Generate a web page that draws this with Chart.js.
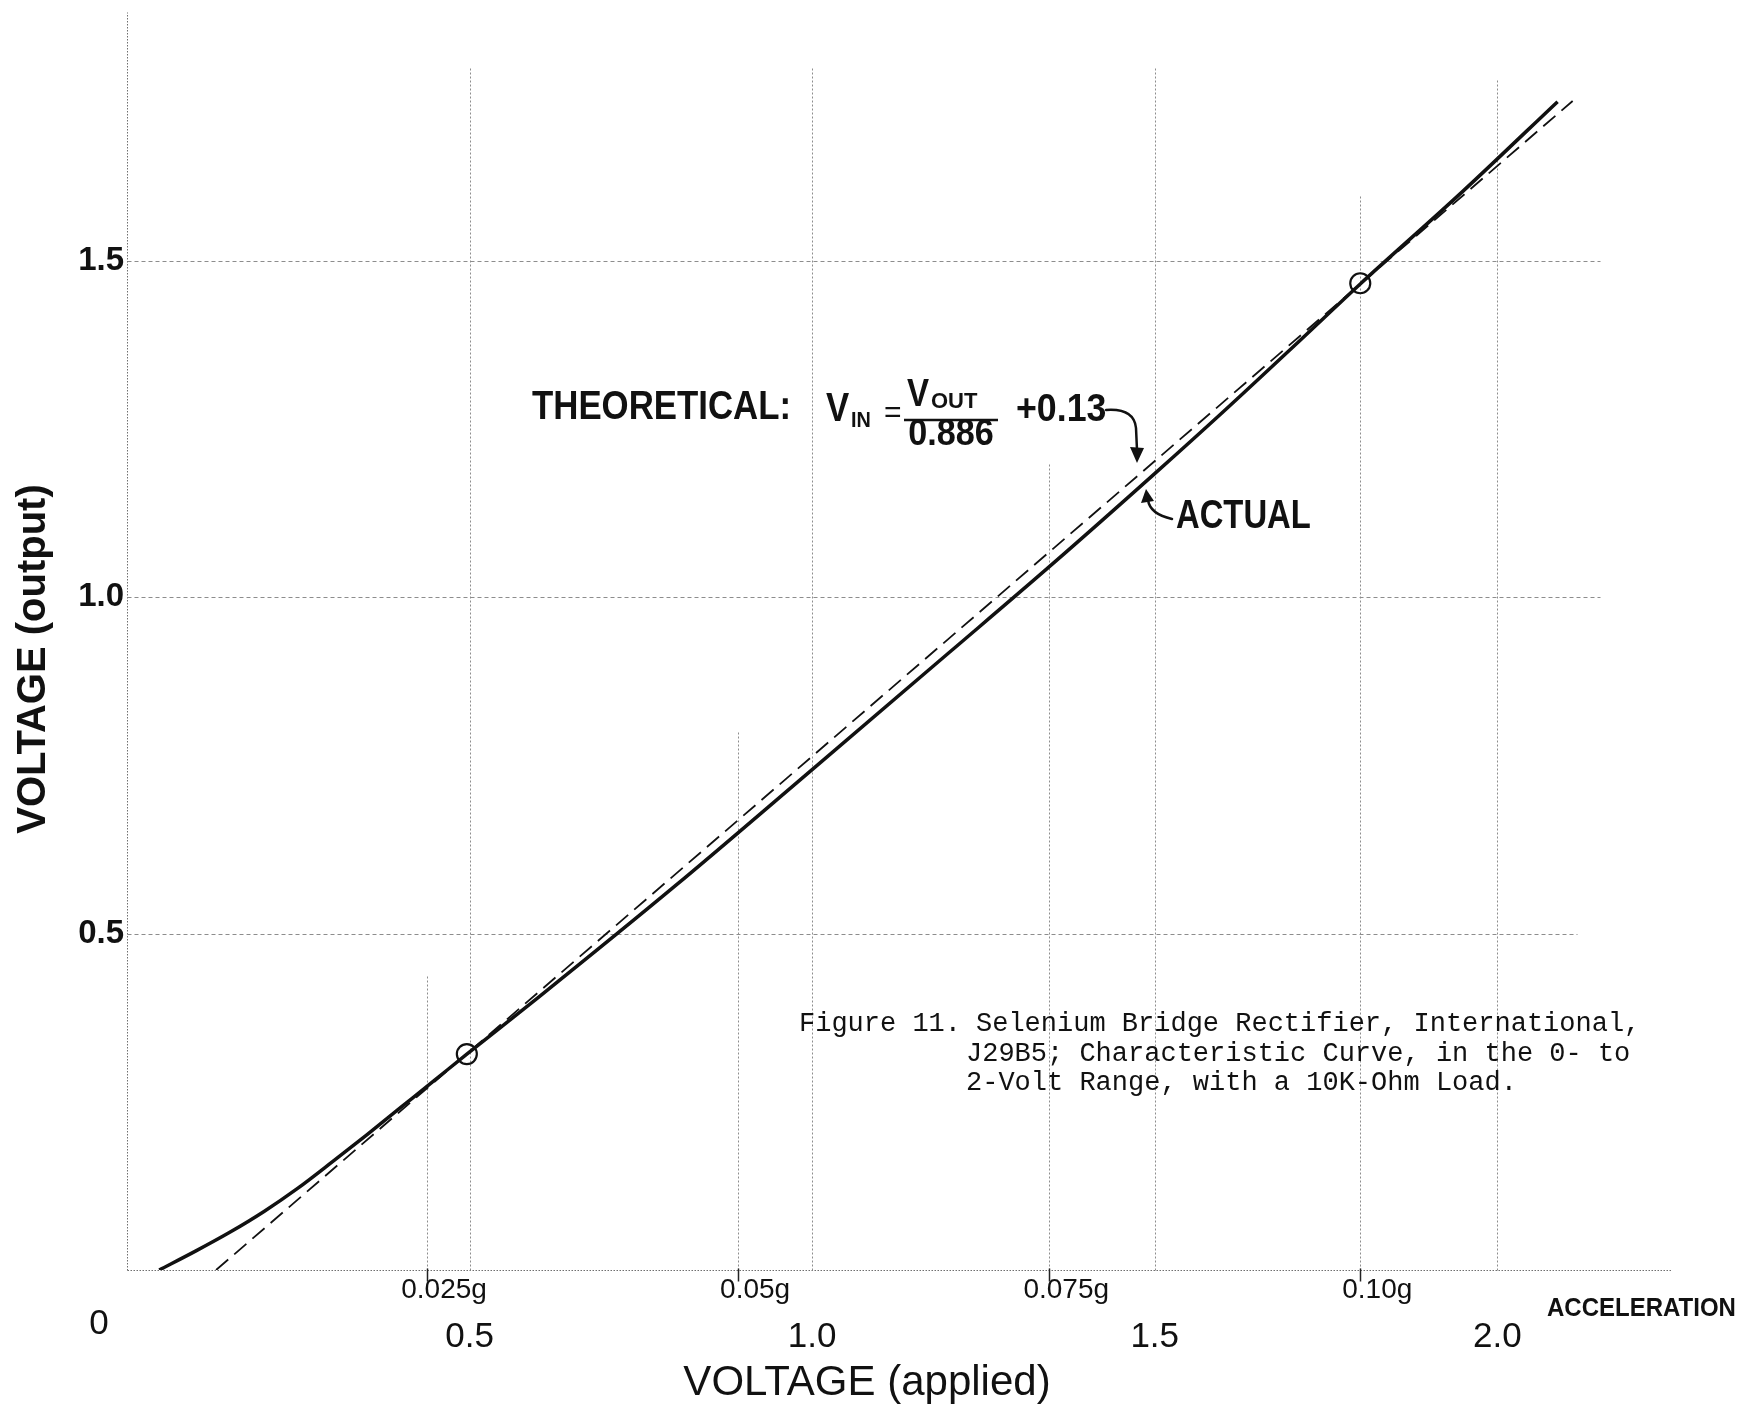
<!DOCTYPE html>
<html><head><meta charset="utf-8">
<script src="https://cdn.jsdelivr.net/npm/chart.js@4.4.1/dist/chart.umd.min.js"></script>
<style>html,body{margin:0;padding:0;background:#fff;}#wrap{width:1760px;height:1411px;position:relative;}</style>
</head><body><div id="wrap"><canvas id="c"></canvas></div>
<script>
// ---- data ----
const actualVin  = [0.047, 0.10, 0.15, 0.20, 0.25, 0.30, 0.35, 0.40, 0.45, 0.496, 0.60, 0.80, 1.00, 1.20, 1.35, 1.50, 1.60, 1.712, 1.80, 1.95, 2.088];
const actualVout = [0.000, 0.028, 0.056, 0.087, 0.122, 0.161, 0.201, 0.242, 0.283, 0.321, 0.405, 0.571, 0.744, 0.918, 1.049, 1.184, 1.276, 1.382, 1.466, 1.604, 1.737];
const theoVin  = [0.13, 2.11];
const theoVout = [0.00, 1.738];
const markVin  = [0.496, 1.80];
const markVout = [0.321, 1.467];
const voltTicks = [0, 0.5, 1.0, 1.5, 2.0];
const voltTickLabels = ['0', '0.5', '1.0', '1.5', '2.0'];
const outTicks = [0.5, 1.0, 1.5];
const outTickLabels = ['0.5', '1.0', '1.5'];
const accelPos = [0.438, 0.892, 1.346, 1.800];
const accelLabels = ['0.025g', '0.05g', '0.075g', '0.10g'];
const xTitle = 'VOLTAGE (applied)';
const yTitle = 'VOLTAGE (output)';
const accelTitle = 'ACCELERATION';
const captionHead = 'Figure 11.';
const captionLines = ['Selenium Bridge Rectifier, International,', 'J29B5; Characteristic Curve, in the 0- to', '2-Volt Range, with a 10K-Ohm Load.'];

// ---- grid extents (paper grid drawn partially) ----
const X_MAX = 2.255, Y_MAX = 1.87;
const voltGridTop = [1.79, 1.79, 1.79, 1.77];      // for 0.5,1.0,1.5,2.0
const accelGridTop = [0.44, 0.80, 1.20, 1.60];
const outGridRight = [2.117, 2.15, 2.15];           // for 0.5,1.0,1.5

const pts = (xs, ys) => xs.map((v, i) => ({x: v, y: ys[i]}));
const FF = '"Liberation Sans", Arial, sans-serif';

function txt(ctx, s, x, y, font, sx, align, base) {
  ctx.save(); ctx.translate(x, y); ctx.scale(sx || 1, 1);
  ctx.font = font; ctx.textAlign = align || 'left'; ctx.textBaseline = base || 'middle';
  ctx.fillStyle = '#111'; ctx.fillText(s, 0, 0); ctx.restore();
}

const paperGrid = {
  id: 'paperGrid',
  beforeDatasetsDraw(chart) {
    const {ctx, scales: {x, y}} = chart;
    const X = v => Math.round(x.getPixelForValue(v)) + 0.5;
    const Y = v => Math.round(y.getPixelForValue(v)) + 0.5;
    ctx.save();
    ctx.lineWidth = 1;
    ctx.strokeStyle = '#6f6f6f'; ctx.setLineDash([1.5, 1.5]);
    ctx.beginPath(); ctx.moveTo(X(0), Y(0)); ctx.lineTo(X(0), Y(Y_MAX)); ctx.stroke();
    ctx.beginPath(); ctx.moveTo(X(0), Y(0)); ctx.lineTo(X(X_MAX), Y(0)); ctx.stroke();
    ctx.strokeStyle = '#8d8d8d'; ctx.setLineDash([2, 2]);
    voltTicks.slice(1).forEach((v, i) => { ctx.beginPath(); ctx.moveTo(X(v), Y(0)); ctx.lineTo(X(v), Y(voltGridTop[i])); ctx.stroke(); });
    accelPos.forEach((v, i) => { ctx.beginPath(); ctx.moveTo(X(v), Y(0)); ctx.lineTo(X(v), Y(accelGridTop[i])); ctx.stroke(); });
    ctx.setLineDash([4, 3]);
    outTicks.forEach((v, i) => { ctx.beginPath(); ctx.moveTo(X(0), Y(v)); ctx.lineTo(X(outGridRight[i]), Y(v)); ctx.stroke(); });
    ctx.setLineDash([]); ctx.strokeStyle = '#222'; ctx.lineWidth = 1.5;
    accelPos.forEach(v => { ctx.beginPath(); ctx.moveTo(X(v), Y(0) - 2); ctx.lineTo(X(v), Y(0) + 11); ctx.stroke(); });
    ctx.restore();
  }
};

const notes = {
  id: 'notes',
  afterDatasetsDraw(chart) {
    const {ctx, scales: {x, y}} = chart;
    const B = 'bold ', F = 'px ' + FF;
    txt(ctx, 'THEORETICAL:', 532, 408, B + 40 + F, 0.87);
    txt(ctx, 'V', 826, 410, B + 40 + F, 0.87);
    txt(ctx, 'IN', 851, 421, B + 22 + F, 0.9);
    txt(ctx, '=', 884, 414, '30' + F, 1);
    txt(ctx, 'V', 907, 396, B + 38 + F, 0.87);
    txt(ctx, 'OUT', 931, 402, B + 22 + F, 1.0);
    ctx.save(); ctx.strokeStyle = '#111'; ctx.lineWidth = 2.5;
    ctx.beginPath(); ctx.moveTo(904, 420); ctx.lineTo(998, 420); ctx.stroke(); ctx.restore();
    txt(ctx, '0.886', 951, 435, B + 36 + F, 0.95, 'center');
    txt(ctx, '+0.13', 1016, 411, B + 38 + F, 0.94);
    txt(ctx, 'ACTUAL', 1176, 517, B + 40 + F, 0.82);
    ctx.save(); ctx.strokeStyle = '#111'; ctx.fillStyle = '#111'; ctx.lineWidth = 2.5; ctx.lineCap = 'round';
    ctx.beginPath(); ctx.moveTo(1106, 410); ctx.quadraticCurveTo(1134, 408, 1136, 428); ctx.lineTo(1137, 450); ctx.stroke();
    ctx.beginPath(); ctx.moveTo(1137, 463); ctx.lineTo(1130, 447); ctx.lineTo(1144, 448); ctx.closePath(); ctx.fill();
    ctx.beginPath(); ctx.moveTo(1172, 519); ctx.quadraticCurveTo(1150, 514, 1148, 500); ctx.stroke();
    ctx.beginPath(); ctx.moveTo(1146, 489); ctx.lineTo(1141, 503); ctx.lineTo(1154, 501); ctx.closePath(); ctx.fill();
    ctx.restore();
    // caption
    const M = '27px "Liberation Mono", "DejaVu Sans Mono", monospace';
    txt(ctx, captionHead, 799, 1024, M, 1);
    captionLines.forEach((s, i) => txt(ctx, s, i === 0 ? 976 : 966, 1024 + i * 29.5, M, 1));
    // axis texts
    txt(ctx, accelTitle, 1547, 1309, B + 25 + F, 0.96);
    txt(ctx, voltTickLabels[0], x.getPixelForValue(voltTicks[0]) - 28, 1324, 35 + F, 1, 'center');
    txt(ctx, xTitle, 867, 1383, 42 + F, 1, 'center');
    ctx.save(); ctx.translate(34, 659); ctx.rotate(-Math.PI / 2);
    txt(ctx, yTitle, 0, 0, B + 40 + F, 1, 'center'); ctx.restore();
  }
};

Chart.defaults.font.family = FF;
Chart.defaults.color = '#111';

new Chart(document.getElementById('c'), {
  type: 'scatter',
  data: {
    datasets: [
      {label: 'Actual', data: pts(actualVin, actualVout), showLine: true, borderColor: '#111', borderWidth: 3.5,
       pointRadius: 0, cubicInterpolationMode: 'monotone', xAxisID: 'x', yAxisID: 'y'},
      {label: 'Theoretical', data: pts(theoVin, theoVout), showLine: true, borderColor: '#111', borderWidth: 1.8,
       borderDash: [16, 8], pointRadius: 0, xAxisID: 'x', yAxisID: 'y'},
      {label: 'Points', data: pts(markVin, markVout), showLine: false, pointRadius: 10, pointStyle: 'circle',
       borderColor: '#111', borderWidth: 2.2, backgroundColor: 'rgba(0,0,0,0)', xAxisID: 'x', yAxisID: 'y'}
    ]
  },
  options: {
    responsive: true, maintainAspectRatio: false, animation: false,
    layout: {padding: {left: 0, right: 88, top: 6, bottom: 0}},
    plugins: {legend: {display: false}, tooltip: {enabled: false}},
    scales: {
      x: {
        type: 'linear', position: 'bottom', min: 0, max: X_MAX, weight: 1,
        afterBuildTicks: s => { s.ticks = voltTicks.slice(1).map(v => ({value: v})); },
        afterFit: s => { s.height = 103; s.paddingLeft = 0; s.paddingRight = 0; },
        grid: {display: false, drawTicks: false}, border: {display: false},
        ticks: {padding: 8, font: {size: 35}, maxRotation: 0, autoSkip: false,
                callback: (v, i) => voltTickLabels[i + 1]}
      },
      xAcc: {
        type: 'linear', position: 'bottom', min: 0, max: X_MAX, weight: 0,
        afterBuildTicks: s => { s.ticks = accelPos.map(v => ({value: v})); },
        afterFit: s => { s.height = 38; s.paddingLeft = 0; s.paddingRight = 0; },
        grid: {display: false, drawTicks: false}, border: {display: false},
        ticks: {padding: 3, labelOffset: 17, font: {size: 28}, maxRotation: 0, autoSkip: false,
                callback: (v, i) => accelLabels[i]}
      },
      y: {
        type: 'linear', position: 'left', min: 0, max: Y_MAX,
        afterBuildTicks: s => { s.ticks = outTicks.map(v => ({value: v})); },
        afterFit: s => { s.width = 127; s.paddingTop = 0; s.paddingBottom = 0; },
        grid: {display: false, drawTicks: false}, border: {display: false},
        ticks: {padding: 3, font: {size: 33, weight: 'bold'}, autoSkip: false,
                callback: (v, i) => outTickLabels[i]}
      }
    }
  },
  plugins: [paperGrid, notes]
});
</script></body></html>
